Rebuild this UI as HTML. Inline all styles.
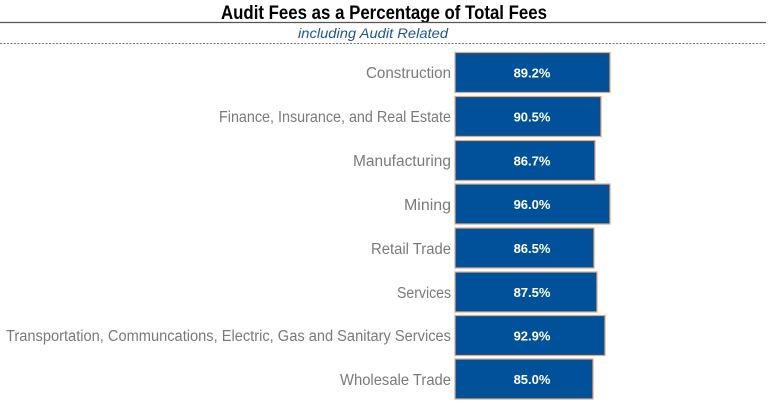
<!DOCTYPE html>
<html><head><meta charset="utf-8"><style>
html,body{margin:0;padding:0;background:#fff;}
svg{display:block;font-family:"Liberation Sans",sans-serif;}
</style></head><body>
<svg width="768" height="407" viewBox="0 0 768 407">
<text x="384" y="19" text-anchor="middle" font-size="19" font-weight="bold" fill="#000" textLength="326" lengthAdjust="spacingAndGlyphs">Audit Fees as a Percentage of Total Fees</text>
<line x1="0" y1="22.5" x2="766" y2="22.5" stroke="#555" stroke-width="1.2"/>
<text x="373" y="38" text-anchor="middle" font-size="14" font-style="italic" fill="#1f5597" textLength="150" lengthAdjust="spacingAndGlyphs">including Audit Related</text>
<line x1="0" y1="43.5" x2="766" y2="43.5" stroke="#777" stroke-width="1" stroke-dasharray="2,1.5"/>
<g fill="#00519a" stroke="#e8a878" stroke-width="1.2">
<rect x="455" y="52.5" width="155" height="40"/>
<rect x="455" y="96.5" width="146" height="40"/>
<rect x="455" y="140.5" width="140" height="40"/>
<rect x="455" y="184" width="155" height="40"/>
<rect x="455" y="228" width="139" height="40"/>
<rect x="455" y="272" width="142" height="40"/>
<rect x="455" y="315.5" width="150" height="40"/>
<rect x="455" y="359" width="138" height="40"/>
</g>
<g fill="#fff" font-size="13" font-weight="bold" text-anchor="middle">
<text x="532" y="77.5">89.2%</text>
<text x="532" y="121.5">90.5%</text>
<text x="532" y="165.5">86.7%</text>
<text x="532" y="209">96.0%</text>
<text x="532" y="253">86.5%</text>
<text x="532" y="297">87.5%</text>
<text x="532" y="340.5">92.9%</text>
<text x="532" y="384">85.0%</text>
</g>
<g fill="#7a7a7a" font-size="15.5" text-anchor="end">
<text x="451" y="78" textLength="85" lengthAdjust="spacingAndGlyphs">Construction</text>
<text x="451" y="122" textLength="232" lengthAdjust="spacingAndGlyphs">Finance, Insurance, and Real Estate</text>
<text x="451" y="166" textLength="98" lengthAdjust="spacingAndGlyphs">Manufacturing</text>
<text x="451" y="210" textLength="47" lengthAdjust="spacingAndGlyphs">Mining</text>
<text x="451" y="254" textLength="80" lengthAdjust="spacingAndGlyphs">Retail Trade</text>
<text x="451" y="298" textLength="54" lengthAdjust="spacingAndGlyphs">Services</text>
<text x="451" y="341" textLength="445" lengthAdjust="spacingAndGlyphs">Transportation, Communcations, Electric, Gas and Sanitary Services</text>
<text x="451" y="385" textLength="111" lengthAdjust="spacingAndGlyphs">Wholesale Trade</text>
</g>
</svg>
</body></html>
